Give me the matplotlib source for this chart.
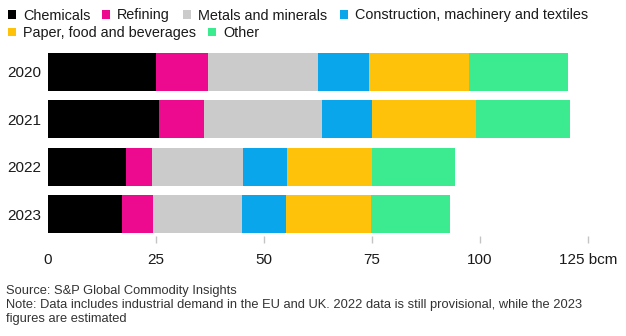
import numpy as np
import matplotlib
matplotlib.use("Agg")
import matplotlib.pyplot as plt
from matplotlib.patches import Rectangle

plt.rcParams['font.family'] = ['Liberation Sans', 'DejaVu Sans']

years = ['2020', '2021', '2022', '2023']
sectors = ['Chemicals', 'Refining', 'Metals and minerals',
           'Construction, machinery and textiles',
           'Paper, food and beverages', 'Other']
colors = ['#000000', '#ee0a8e', '#cbcbcb', '#0aa6ec', '#ffc20a', '#3ceb8f']

# bcm per sector, one list per sector in year order
chemicals = [25.1, 25.8, 18.0, 17.1]
refining = [11.9, 10.4, 6.1, 7.2]
metals = [25.6, 27.2, 21.0, 20.6]
construction = [11.8, 11.5, 10.3, 10.3]
paper = [23.0, 24.1, 19.5, 19.6]
other = [23.0, 21.8, 19.3, 18.3]
series = [chemicals, refining, metals, construction, paper, other]

xticks = [0, 25, 50, 75, 100, 125]
xticklabels = ['0', '25', '50', '75', '100', '125 bcm']

W, H = 626, 336
fig = plt.figure(figsize=(W / 100, H / 100), dpi=100)

# axes placed in pixels: x 0 -> 48px, 125 -> 588px
ax_left, ax_right = 48, 588
ax_top, ax_bottom = 48, 236
ax = fig.add_axes([ax_left / W, 1 - ax_bottom / H,
                   (ax_right - ax_left) / W, (ax_bottom - ax_top) / H])

y = np.arange(len(years))
left = np.zeros(len(years))
for vals, col, name in zip(series, colors, sectors):
    ax.barh(y, vals, left=left, height=0.8, color=col, label=name, linewidth=0)
    left += np.array(vals)

ax.set_xlim(0, 125)
ax.set_ylim(len(years) - 1 + 0.46, -0.5)
ax.set_yticks(y)
ax.set_yticklabels(years, fontsize=11, color='#1a1a1a')
ax.set_xticks(xticks)
ax.set_xticklabels(xticklabels, fontsize=11, color='#1a1a1a')
ax.tick_params(axis='y', length=0, pad=4.5)
ax.tick_params(axis='x', length=5, width=1, color='#c4c4c4', pad=7.5)
ax.xaxis.get_major_ticks()[0].tick1line.set_visible(False)
for s in ax.spines.values():
    s.set_visible(False)

# legend laid out by hand, two rows like the original
legend_pos = [(23, 19.5), (117, 19.5), (198, 19.5), (355, 19.5),
              (23, 37.3), (223, 37.3)]
for (tx, by), col, name in zip(legend_pos, colors, sectors):
    sq = 8
    fig.patches.append(Rectangle(((tx - 15) / W, 1 - (by - 5 + sq / 2) / H),
                                 sq / W, sq / H, transform=fig.transFigure,
                                 color=col, linewidth=0))
    fig.text(tx / W, 1 - by / H, name, fontsize=10.4, color='#1a1a1a',
             va='baseline', ha='left')

fig.text(6 / W, 1 - 294 / H, 'Source: S&P Global Commodity Insights',
         fontsize=9.3, color='#333333', va='baseline')
fig.text(6 / W, 1 - 308 / H,
         'Note: Data includes industrial demand in the EU and UK. 2022 data is still provisional, while the 2023',
         fontsize=9.3, color='#333333', va='baseline')
fig.text(6 / W, 1 - 322 / H, 'figures are estimated',
         fontsize=9.3, color='#333333', va='baseline')

fig.savefig('out.png', dpi=100)
